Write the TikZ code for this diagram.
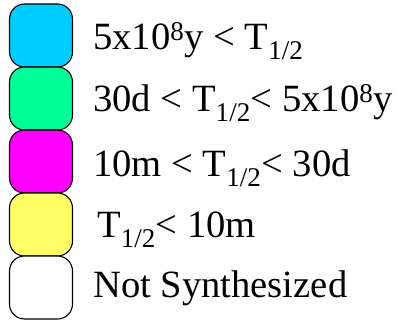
\documentclass[tikz,border=0pt]{standalone}
\usepackage{fontspec}
\setmainfont{Liberation Serif}
\definecolor{longlived}{HTML}{00CCFF}
\definecolor{daysyears}{HTML}{00FF99}
\definecolor{minsdays}{HTML}{FF00FF}
\definecolor{shortlived}{HTML}{FFFF66}
\definecolor{keyedge}{HTML}{000000}

\begin{document}
\begin{tikzpicture}[
  x=1pt,
  y=-1pt,
  line join=round,
  swatch/.style={draw=keyedge,line width=1.1pt,rounded corners=15pt,
    minimum width=63pt,minimum height=63pt,inner sep=0pt},
  keytext/.style={anchor=base west,inner sep=0pt,
    font=\fontsize{38.6}{40}\selectfont}
]
  \useasboundingbox (0,0) rectangle (399,320);

  % Colour swatches, stacked edge to edge.
  \node[swatch,fill=longlived]  (key1) at (41,35.5)  {};
  \node[swatch,fill=daysyears]  (key2) at (41,98.5)  {};
  \node[swatch,fill=minsdays]   (key3) at (41,161.5) {};
  \node[swatch,fill=shortlived] (key4) at (41,224.5) {};
  \node[swatch,fill=white]      (key5) at (41,287.5) {};

  % Half-life ranges.
  \node[keytext] (lab1) at (93,50)  {5x10\textsuperscript{8}y < T\textsubscript{1/2}};
  \node[keytext] (lab2) at (93,112) {30d < T\textsubscript{1/2}< 5x10\textsuperscript{8}y};
  \node[keytext] (lab3) at (93,177) {10m < T\textsubscript{1/2}< 30d};
  \node[keytext] (lab4) at (97,238) {T\textsubscript{1/2}< 10m};
  \node[keytext] (lab5) at (93,298) {Not Synthesized};
\end{tikzpicture}
\end{document}
